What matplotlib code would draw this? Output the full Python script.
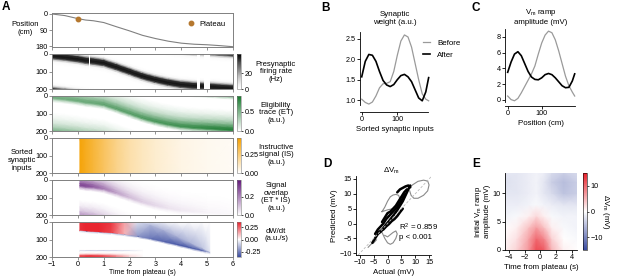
import numpy as np
import matplotlib
matplotlib.use('Agg')
import matplotlib.pyplot as plt
from matplotlib.colors import LinearSegmentedColormap

plt.rcParams['font.family'] = ['Liberation Sans', 'DejaVu Sans']
plt.rcParams['mathtext.default'] = 'regular'
plt.rcParams['font.size'] = 5.5

# ---- panel A: animal position and the band of active inputs ----
pos_t = [-1, -0.5, 0, 0.3, 0.6, 1.0, 1.5, 2.0, 2.5, 3.0, 3.5, 4.0, 4.5, 5.0, 5.5, 6.0]
pos_cm = [0, 9, 26, 34, 38, 48, 72, 95, 120, 138, 153, 164, 170, 173, 178, 184]
plateau_t = 0
plateau_cm = 26

band_c = [12, 20, 30, 38, 43, 52, 76, 102, 128, 148, 164, 176, 183, 187, 192, 197]

rate_offs = [-46, -33, -23, -13, 0, 13, 23, 33, 46]
rate_prof = [0, 0.05, 0.35, 0.9, 1.0, 0.9, 0.35, 0.05, 0]
rate_peak = 42
gap_start = [0.44, 4.62, 4.88]
gap_end = [0.48, 4.72, 5.11]

et_offs = [-115, -80, -52, -30, -13, 0, 10, 22]
et_prof = [0, 0.12, 0.3, 0.55, 0.8, 0.9, 0.5, 0]
et_amp = [0.62, 0.62, 0.64, 0.65, 0.66, 0.68, 0.7, 0.72, 0.75, 0.78, 0.8, 0.83, 0.86, 0.9, 0.93, 0.95]

is_t = [0.08, 0.3, 0.6, 1.0, 1.5, 2.0, 2.5, 3.0, 4.0, 5.0, 6.0]
is_v = [0.46, 0.42, 0.37, 0.3, 0.22, 0.16, 0.12, 0.09, 0.05, 0.03, 0.02]

ov_t = [0.08, 0.3, 0.6, 1.0, 1.5, 2.0, 2.5, 3.0, 3.5, 4.0, 5.0, 6.0]
ov_c = [33, 38, 42, 52, 76, 102, 128, 148, 164, 176, 187, 197]
ov_amp = [0.34, 0.34, 0.3, 0.24, 0.17, 0.12, 0.09, 0.07, 0.05, 0.04, 0.02, 0.01]

dw_t = [0.08, 0.3, 0.8, 1.3, 1.8, 2.3, 2.8, 3.3, 3.8, 4.3, 4.8, 5.1]
dw_edge = [52, 56, 61, 66, 74, 84, 98, 115, 132, 150, 168, 178]
dw_top = [0, 0, 0, 0, 0, 0, 20, 50, 85, 118, 150, 172]
dw_v_top = [0.32, 0.34, 0.34, 0.31, 0.15, -0.05, -0.06, -0.03, 0, 0, 0, 0]
dw_v_wedge = [0.32, 0.34, 0.34, 0.31, 0.15, -0.05, -0.14, -0.16, -0.16, -0.15, -0.12, -0.05]
dw_v_edge = [0.32, 0.34, 0.34, 0.29, 0.12, -0.2, -0.27, -0.3, -0.32, -0.32, -0.3, -0.12]
dw_v_line = [-0.08, -0.10, -0.10, -0.12, -0.15, -0.20, -0.22, -0.22, -0.22, -0.20, -0.15, -0.05]

dwb_t = [0.08, 0.5, 1.0, 1.5, 2.0, 2.5]
dwb_y = [161, 166, 171, 176, 186, 193, 200]
dwb_v = [[0, 0, 0, 0, 0, 0],
         [-0.07, -0.1, -0.1, -0.09, -0.06, 0],
         [0, 0, 0, 0, 0, 0],
         [0, 0, 0, 0, 0, 0],
         [0.08, 0.1, 0.08, 0.05, 0.02, 0],
         [0.25, 0.3, 0.25, 0.15, 0.05, 0],
         [0.33, 0.33, 0.3, 0.2, 0.06, 0]]

# ---- panel B: synaptic weights ----
b_x = [0, 10, 20, 30, 40, 50, 60, 70, 80, 90, 100, 110, 120, 130, 140, 150, 160, 170, 180, 188]
w_before = [1.02, 0.94, 0.9, 0.95, 1.1, 1.3, 1.4, 1.41, 1.45, 1.7, 2.1, 2.45, 2.6, 2.55, 2.3, 1.9, 1.5, 1.15, 1.02, 0.98]
w_after = [1.57, 1.95, 2.12, 2.1, 1.95, 1.7, 1.48, 1.37, 1.33, 1.38, 1.5, 1.6, 1.63, 1.57, 1.45, 1.25, 1.05, 0.98, 1.2, 1.55]

# ---- panel C: ramp amplitude ----
c_x = [0, 10, 20, 30, 40, 50, 60, 70, 80, 90, 100, 110, 120, 130, 140, 150, 160, 170, 180, 190, 197]
ramp_before = [0.5, 0.05, -0.1, 0.2, 0.9, 1.7, 2.5, 3.3, 4.3, 5.8, 7.2, 8.2, 8.7, 8.5, 7.6, 6.2, 4.6, 3.0, 1.8, 1.0, 0.5]
ramp_after = [3.5, 4.8, 5.8, 6.1, 5.6, 4.6, 3.6, 2.9, 2.6, 2.55, 2.8, 3.2, 3.35, 3.2, 2.8, 2.3, 1.8, 1.55, 1.6, 2.4, 3.3]

# ---- panel D: predicted vs actual ----
d_black = [
    ([-5.5, -4.5, -3.5, -2.5, -1.5, -0.5, 0.5, 1.5, 2.5, 3.5, 4.5, 5.5, 6.5, 7.5, 8.2],
     [-6.5, -5, -3.5, -2.8, -1.5, -0.3, 0.8, 2, 3.2, 4.5, 6, 7.5, 9.5, 11.5, 12.8]),
    ([-4.5, -3.5, -2.5, -1.5, -0.5, 0.5, 1.5, 2.5, 3.5, 4.5, 5.5, 6.5],
     [-3.5, -2, -1, 0, 1.5, 2.5, 3.5, 4.5, 5.5, 7, 8.5, 10]),
    ([-3.5, -2.5, -1.5, -0.5, 0.5, 1.5, 2.5, 3.5, 4.5, 5.5],
     [-3, -2.5, -2, -1, -0.2, 0.8, 1.5, 2.5, 3.8, 5]),
    ([-2, -1, 0, 1, 2, 3, 4, 5, 6, 7],
     [0.5, 2, 3.5, 4, 5, 6, 7.5, 9, 10.5, 11.5]),
    ([3.5, 4.5, 5.5, 6.5, 7.5, 8.2],
     [10.5, 11.5, 12, 12.5, 12.8, 12.2]),
]
d_gray = [
    ([7, 9, 11, 13, 14.5, 15, 14.5, 13, 11, 9.5, 8.5, 8],
     [11, 13, 14.2, 14.6, 14.3, 13, 11, 9.5, 8.5, 8.5, 9.5, 11]),
    ([-2, -1, 0, 1, 2, 3, 4, 4.4, 4, 3, 2, 0, -2],
     [4, 5.5, 7.5, 9, 9.6, 9.8, 9.5, 8.5, 7, 5.5, 5, 4.6, 4]),
    ([-2, -1, 0, 1, 2, 3, 3.5, 3, 2, 0, -1],
     [-3, -5, -6.5, -7, -6.5, -5, -3.5, -2.5, -3, -4.5, -4]),
    ([-7, -6, -5, -4], [-8, -7, -6.5, -5.5]),
]
r2_text = 'R$^2$ = 0.859\np < 0.001'

# ---- panel E: change in ramp amplitude ----
e_x = [-4.5, -3, -1.5, -0.5, 0.5, 1.5, 3, 4.7]
e_y = [0, 2, 4, 6, 8, 10, 12, 13.6]
e_v = [[1, 3, 7, 12, 11, 5, 1, 0],
       [0.5, 2, 6, 10, 8, 3, 0, -0.5],
       [0, 1, 4, 6.5, 4, 1, -0.5, -1],
       [-1, -0.5, 1, 2.5, 1, -0.5, -1, -1],
       [-1.5, -1.5, -1, -0.5, -1, -1.5, -2, -2],
       [-2, -2, -1.5, -1, -2, -3, -5, -4],
       [-2.5, -2, -1.5, -1, -2, -4, -5.5, -4],
       [-2, -2, -1.5, -1, -1.5, -3, -4, -3]]

W, H = 617, 278
fig = plt.figure(figsize=(W / 100, H / 100), dpi=100)


def box(x0, y0, x1, y1):
    return fig.add_axes([x0 / W, 1 - y1 / H, (x1 - x0) / W, (y1 - y0) / H])


def ftext(x, y, s, **kw):
    fig.text(x / W, 1 - y / H, s, **kw)


def cmap_to(color):
    return LinearSegmentedColormap.from_list('c', ['white', color])


div_cmap = LinearSegmentedColormap.from_list('d', ['#3a4ba0', '#ffffff', '#e8202a'])
grey = '#808080'


def style_a(ax, last=False):
    for s in ax.spines.values():
        s.set_color(grey)
        s.set_linewidth(0.7)
    ax.set_xlim(-1, 6)
    ax.set_xticks(range(-1, 7))
    ax.tick_params(length=2, width=0.6, color=grey, labelsize=5.2, pad=1)
    if not last:
        ax.set_xticklabels([])


def band(ax, t, c, offs, prof, amp, cmap, vmax, shift=0):
    T = np.tile(np.asarray(t, float), (len(offs), 1))
    Y = np.add.outer(offs, c) + shift
    C = np.outer(prof, amp)
    return ax.pcolormesh(T, Y, C, shading='gouraud', cmap=cmap, vmin=0, vmax=vmax)


def cbar(m, y0, y1, ticks, fmt):
    cax = box(237, y0, 241, y1)
    cb = fig.colorbar(m, cax=cax, ticks=ticks)
    cb.ax.set_yticklabels([fmt.format(v) for v in ticks])
    cb.outline.set_linewidth(0.4)
    cb.outline.set_edgecolor(grey)
    cb.ax.tick_params(labelsize=5.2, length=1.5, width=0.5, pad=1)
    return cb


rows = [(54, 89), (96, 131), (138, 173), (180, 215), (222, 257)]

# position
ax = box(52, 13, 233, 47)
ax.plot(pos_t, pos_cm, color=grey, lw=0.8)
ax.plot(plateau_t, plateau_cm, 'o', color='#b5782f', ms=3.2, label='Plateau')
ax.set_ylim(185.6, -5.6)
ax.set_yticks([0, 90, 180])
style_a(ax)
ax.legend(loc='upper right', frameon=False, fontsize=5.5, handletextpad=0.6,
          borderaxespad=0.6, handlelength=1.0)
ftext(25, 28, 'Position\n(cm)', ha='center', va='center')

# firing rate
ax = box(52, rows[0][0], 233, rows[0][1])
amp = np.full(len(pos_t), rate_peak)
for sh in (-200, 0, 200):
    m = band(ax, pos_t, band_c, rate_offs, rate_prof, amp, 'Greys', 45, sh)
for gs, ge in zip(gap_start, gap_end):
    ax.axvspan(gs, ge, color='white', lw=0)
ax.set_ylim(200, 0)
ax.set_yticks([0, 100, 200])
style_a(ax)
cbar(m, *rows[0], [0, 20], '{:g}')

# eligibility trace
ax = box(52, rows[1][0], 233, rows[1][1])
for sh in (-200, 0, 200):
    m = band(ax, pos_t, band_c, et_offs, et_prof, et_amp, cmap_to('#16782c'), 0.9, sh)
ax.set_ylim(200, 0)
ax.set_yticks([0, 100, 200])
style_a(ax)
cbar(m, *rows[1], [0.0, 0.5], '{:.1f}')

# instructive signal
ax = box(52, rows[2][0], 233, rows[2][1])
T = np.tile(np.asarray(is_t, float), (2, 1))
Y = np.array([[0.0] * len(is_t), [200.0] * len(is_t)])
C = np.tile(np.asarray(is_v, float), (2, 1))
m = ax.pcolormesh(T, Y, C, shading='gouraud', cmap=cmap_to('#f5a000'), vmin=0, vmax=0.48)
ax.set_ylim(200, 0)
ax.set_yticks([0, 100, 200])
style_a(ax)
cbar(m, *rows[2], [0.0, 0.25], '{:.2f}')

# signal overlap
ax = box(52, rows[3][0], 233, rows[3][1])
for sh in (0, 200):
    m = band(ax, ov_t, ov_c, et_offs, et_prof, ov_amp, cmap_to('#62187a'), 0.38, sh)
ax.set_ylim(200, 0)
ax.set_yticks([0, 100, 200])
style_a(ax)
cbar(m, *rows[3], [0.0, 0.2], '{:.1f}')

# dW/dt
ax = box(52, rows[4][0], 233, rows[4][1])
edge = np.asarray(dw_edge, float)
Y = np.vstack([np.zeros(len(dw_t)), dw_top, edge - 3, edge + 2, edge + 6])
C = np.vstack([dw_v_top, dw_v_wedge, dw_v_edge, dw_v_line, np.zeros(len(dw_t))])
T = np.tile(np.asarray(dw_t, float), (Y.shape[0], 1))
m = ax.pcolormesh(T, Y, C, shading='gouraud', cmap=div_cmap, vmin=-0.35, vmax=0.35)
Tb, Yb = np.meshgrid(dwb_t, dwb_y)
ax.pcolormesh(Tb, Yb, np.array(dwb_v), shading='gouraud', cmap=div_cmap, vmin=-0.35, vmax=0.35)
ax.set_ylim(200, 0)
ax.set_yticks([0, 100, 200])
style_a(ax, last=True)
cbar(m, *rows[4], [-0.25, 0.0, 0.25], '{:.2f}')
ftext(142, 272, 'Time from plateau (s)', ha='center', va='center', fontsize=5)
ftext(22, 160, 'Sorted\nsynaptic\ninputs', ha='center', va='center')

cb_labels = [('Presynaptic\nfiring rate\n(Hz)', 72), ('Eligibility\ntrace (ET)\n(a.u.)', 113),
             ('Instructive\nsignal (IS)\n(a.u.)', 155), ('Signal\noverlap\n(ET * IS)\n(a.u.)', 197),
             ('dW/dt\n(a.u./s)', 235)]
for s, y in cb_labels:
    ftext(276, y, s, ha='center', va='center', linespacing=1.1)


def style_xy(ax):
    ax.spines['top'].set_visible(False)
    ax.spines['right'].set_visible(False)
    for s in ax.spines.values():
        s.set_linewidth(0.6)
    ax.tick_params(length=2, width=0.6, labelsize=5.2, pad=1)


# B
ax = box(360, 32, 430, 112)
ax.plot(b_x, w_before, color='#9a9a9a', lw=0.9, label='Before')
ax.plot(b_x, w_after, color='black', lw=1.2, label='After')
ax.set_xlim(-4.8, 191.8)
ax.set_ylim(0.705, 2.672)
ax.set_xticks([0, 100])
ax.set_yticks([1.0, 1.5, 2.0, 2.5])
ax.set_yticklabels(['1.0', '1.5', '2.0', '2.5'])
style_xy(ax)
ax.spines['left'].set_bounds(0.88, 2.672)
ax.spines['bottom'].set_bounds(-4.8, 186)
ax.set_xlabel('Sorted synaptic inputs', fontsize=5.7, labelpad=2)
ax.legend(loc='upper left', bbox_to_anchor=(416 / W, 1 - 32 / H), bbox_transform=fig.transFigure,
          frameon=False, fontsize=5.7, handlelength=0.9, handletextpad=0.9, labelspacing=0.6)
ftext(395, 18, 'Synaptic\nweight (a.u.)', ha='center', va='center', fontsize=5.7)

# C
ax = box(505, 29, 577, 106)
ax.plot(c_x, ramp_before, color='#9a9a9a', lw=0.9)
ax.plot(c_x, ramp_after, color='black', lw=1.2)
ax.set_xlim(-7.9, 203.8)
ax.set_ylim(-0.76, 8.97)
ax.set_xticks([0, 100])
ax.set_yticks([0, 2, 4, 6, 8])
style_xy(ax)
ax.spines['left'].set_bounds(-0.25, 8.97)
ax.spines['bottom'].set_bounds(-7.9, 198)
ax.set_xlabel('Position (cm)', fontsize=5.7, labelpad=2)
ftext(541, 16.5, 'V$_m$ ramp\namplitude (mV)', ha='center', va='center', fontsize=5.7)

# D
ax = box(356, 176, 431, 255)
ax.axline((0, 0), slope=1, color='#bbbbbb', lw=0.6, ls=(0, (3, 2)), zorder=3)
for x, y in d_gray:
    ax.plot(x, y, color='#8a8a8a', lw=0.8)
for x, y in d_black:
    ax.plot(x, y, color='black', lw=1.8, solid_capstyle='round')
ax.set_xlim(-11.4, 15.7)
ax.set_ylim(-10.6, 16.0)
ax.set_xticks([-10, -5, 0, 5, 10, 15])
ax.set_yticks([-10, -5, 0, 5, 10, 15])
style_xy(ax)
ax.set_xlabel('Actual (mV)', fontsize=5.7, labelpad=2)
ax.set_ylabel('Predicted (mV)', fontsize=5.7, labelpad=1)
ax.text(0.57, 0.30, r2_text, transform=ax.transAxes, fontsize=5.7, va='center', linespacing=1.2)
ftext(391, 171, '$\\Delta$V$_m$', ha='center', va='center', fontsize=5.7)

# E
ax = box(505, 173, 577, 250)
Ex, Ey = np.meshgrid(e_x, e_y)
m = ax.pcolormesh(Ex, Ey, np.array(e_v, float), shading='gouraud', cmap=div_cmap, vmin=-15, vmax=15)
ax.set_xlim(-4.5, 4.7)
ax.set_ylim(0, 13.6)
ax.set_xticks([-4, -2, 0, 2, 4])
ax.set_yticks([0, 5, 10])
style_xy(ax)
ax.set_xlabel('Time from plateau (s)', fontsize=5.7, labelpad=2)
ax.set_ylabel('Initial V$_m$ ramp\namplitude (mV)', fontsize=5.7, labelpad=1, linespacing=1.1)
cax = box(583, 173, 587, 250)
cb = fig.colorbar(m, cax=cax, ticks=[-10, 0, 10])
cb.outline.set_linewidth(0.4)
cb.ax.tick_params(labelsize=5.2, length=1.5, width=0.5, pad=1)
ftext(606, 212, '$\\Delta$V$_m$ (mV)', ha='center', va='center', rotation=270, fontsize=5.7)

for s, x, y in [('A', 6, 7), ('B', 326, 8), ('C', 476, 8), ('D', 327, 164), ('E', 476, 164)]:
    ftext(x, y, s, ha='center', va='center', fontsize=8.5, fontweight='bold')

fig.savefig('out.png', dpi=100)
